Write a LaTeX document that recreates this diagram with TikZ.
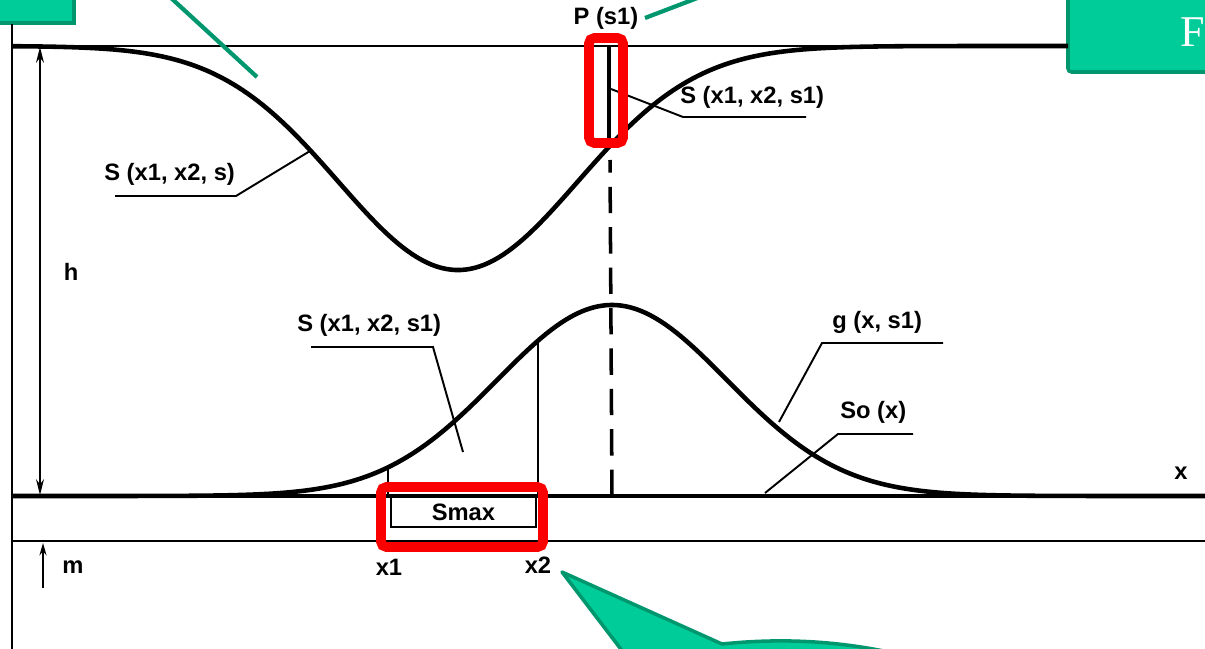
\documentclass[tikz,border=0pt]{standalone}
\usepackage{fontspec}
\setmainfont{Liberation Sans}
\newfontfamily\serifF{Liberation Serif}
\usetikzlibrary{arrows.meta}
\definecolor{gfill}{RGB}{0,204,153}
\definecolor{gline}{RGB}{0,150,110}
\definecolor{rbox}{RGB}{250,0,0}
\tikzset{
  lbl/.style={font=\fontsize{13.5}{16}\selectfont\bfseries, inner sep=0pt, text=black},
  thin/.style={line width=1.1pt, black},
  curve/.style={line width=2.6pt, black, line join=round},
  leader/.style={line width=1.1pt, black},
  redbox/.style={draw=rbox, line width=5.5pt, rounded corners=3pt},
  gbox/.style={draw=gline, fill=gfill, line width=2pt},
  gptr/.style={gline, line width=2.4pt},
  dim/.style={line width=1.1pt, black},
}
\begin{document}
\begin{tikzpicture}[x=0.02cm,y=-0.02cm]
\useasboundingbox (0,0) rectangle (1205,649);
% green boxes
\path[gbox] (-20,-20) rectangle (74,23);
\path[gbox, rounded corners=2pt] (1068,-20) rectangle (1230,72);
\node[anchor=west, text=white, font=\serifF\fontsize{25}{28}\selectfont, inner sep=0pt] (ftext) at (1180,32) {F};
% frame lines
\coordinate (tl) at (12,24);
\coordinate (bl) at (12,649);
\draw[line width=1.5pt] (tl) -- (bl);
\coordinate (topL) at (12,46);
\coordinate (topR) at (1068,46);
\draw[thin] (topL) -- (topR);
\coordinate (baseL) at (12,496);
\coordinate (baseR) at (1205,496);
\draw[line width=2.4pt] (baseL) -- (baseR);
\coordinate (lowL) at (12,541);
\coordinate (lowR) at (1205,541);
\draw[thin] (lowL) -- (lowR);
% curves
\draw[curve] plot[domain=12:1068, samples=220] (\x, {46+224*exp(-((\x-458)/119.5)^2/2)});
\draw[curve] plot[domain=12:1205, samples=240] (\x, {496-191*exp(-((\x-612)/115)^2/2)});
% h and m arrows
\coordinate (hTop) at (40,47);
\coordinate (hBot) at (40,495);
\draw[dim, {Stealth[length=9pt,width=4.5pt]}-{Stealth[length=9pt,width=4.5pt]}] (hTop) -- (hBot);
\node[lbl] (h) at (71,272) {h};
\coordinate (mTop) at (43,543);
\coordinate (mBot) at (43,588);
\draw[dim, -{Stealth[length=7pt,width=4pt]}] (mBot) -- (mTop);
\node[lbl] (m) at (73,567) {m};
% x1 x2 verticals
\coordinate (x1b) at (388,496);
\coordinate (x1t) at (388,{496-191*exp(-((388-612)/115)^2/2)});
\coordinate (x2b) at (538,496);
\coordinate (x2t) at (538,{496-191*exp(-((538-612)/115)^2/2)});
\draw[leader] (x1b) -- (x1t);
\draw[leader] (x2b) -- (x2t);
\node[lbl] (x1) at (389,567) {x1};
\node[lbl] (x2) at (538,565) {x2};
\node[lbl] (xax) at (1181,473) {x};
% Smax box
\node[draw, line width=1.1pt, minimum width=2.9cm, minimum height=0.6cm, anchor=north west, inner sep=0pt] (smaxbox) at (390,496) {};
\node[lbl] (smax) at (smaxbox.center) {Smax};
% P(s1) line and dashed
\coordinate (pTop) at (609,46);
\coordinate (pBot) at (609,142);
\draw[line width=2.2pt] (pTop) -- (pBot);
\coordinate (dTop) at (610,160);
\coordinate (dBot) at (612,496);
\draw[line width=2pt, dash pattern=on 15pt off 8pt] (dBot) -- (dTop);
\node[lbl] (ps1) at (606,18) {P (s1)};
% leaders
\coordinate (a1) at (611,89);
\coordinate (a2) at (683,117);
\coordinate (a3) at (806,117);
\draw[leader] (a1) -- (a2) -- (a3);
\node[lbl, anchor=west] (s1top) at (680,97) {S (x1, x2, s1)};
\coordinate (b1) at (310,151);
\coordinate (b2) at (236,196);
\coordinate (b3) at (115,196);
\draw[leader] (b1) -- (b2) -- (b3);
\node[lbl, anchor=west] (stop) at (104,174) {S (x1, x2, s)};
\coordinate (c1) at (463,452);
\coordinate (c2) at (433,347);
\coordinate (c3) at (311,347);
\draw[leader] (c1) -- (c2) -- (c3);
\node[lbl, anchor=west] (smid) at (297,325) {S (x1, x2, s1)};
\coordinate (d1) at (779,422);
\coordinate (d2) at (822,343);
\coordinate (d3) at (943,343);
\draw[leader] (d1) -- (d2) -- (d3);
\node[lbl, anchor=west] (g) at (832,322) {g (x, s1)};
\coordinate (e1) at (765,493);
\coordinate (e2) at (838,434);
\coordinate (e3) at (913,434);
\draw[leader] (e1) -- (e2) -- (e3);
\node[lbl, anchor=west] (so) at (840,412) {So (x)};
% red boxes
\draw[redbox] (589,38) rectangle (623,143);
\draw[redbox] (381,487) rectangle (543,547);
% green pointers
\coordinate (gp1a) at (170,-3);
\coordinate (gp1b) at (257,77);
\draw[gptr] (gp1a) -- (gp1b);
\coordinate (gp2a) at (645,18);
\coordinate (gp2b) at (700,-3);
\draw[gptr] (gp2a) -- (gp2b);
\coordinate (tip) at (562,572);
\path[gbox, line join=round] (633,665) -- (tip) -- (722,644) .. controls (790,637) and (860,641) .. (940,665) -- cycle;
\end{tikzpicture}
\end{document}
